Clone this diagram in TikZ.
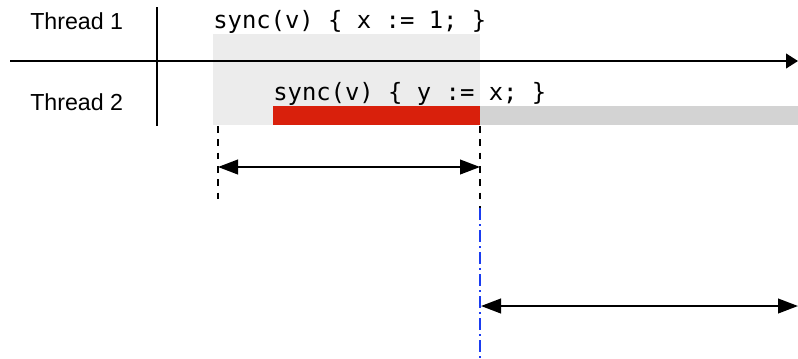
\documentclass[tikz,border=0pt]{standalone}
\usepackage{fontspec}
\newfontfamily\labelfont{Liberation Sans}
\newfontfamily\codefont{DejaVu Sans Mono}
\usetikzlibrary{arrows.meta}
\definecolor{lockgray}{HTML}{ECECEC}
\definecolor{waitred}{HTML}{D9200C}
\definecolor{restgray}{HTML}{D3D3D3}
\definecolor{cutblue}{HTML}{1A3CF0}
\tikzset{
    lane/.style={anchor=base west, inner sep=0, font=\labelfont\fontsize{17.4}{20}\selectfont},
    code/.style={anchor=base west, inner sep=0, font=\codefont\fontsize{17.9}{21}\selectfont},
    axis/.style={line width=1.6pt, -{Triangle[length=9pt, width=11pt]}},
    span/.style={line width=1.5pt, {Triangle[length=15pt, width=11pt]}-{Triangle[length=15pt, width=11pt]}},
    guide/.style={line width=1.2pt, dash pattern=on 5pt off 5pt},
    cutline/.style={cutblue, line width=1.1pt, dash pattern=on 9pt off 3pt on 1.5pt off 3pt}
}

\begin{document}
\begin{tikzpicture}[x=0.75pt, y=-0.75pt]
\useasboundingbox (0,0) rectangle (798,358);
% blocks
\fill[lockgray] (213,34) rectangle (480,125);
\fill[waitred] (273,106) rectangle (480,125);
\fill[restgray] (480,106) rectangle (798,125);
% threads
\node[lane] (t1) at (30,29) {Thread 1};
\node[lane] (t2) at (30,110) {Thread 2};
\node[code] (c1) at (213,28.5) {sync(v) \{ x := 1; \}};
\node[code] (c2) at (273,100) {sync(v) \{ y := x; \}};
\coordinate (sepTop) at (157,7);
\coordinate (sepBot) at (157,126);
\coordinate (timeL) at (10,61);
\coordinate (timeR) at (798,61);
\draw[line width=1.6pt] (sepTop) -- (sepBot);
\draw[axis] (timeL) -- (timeR);
% guides
\coordinate (lockA) at (218,126);
\coordinate (lockAe) at (218,201);
\coordinate (lockB) at (480,126);
\coordinate (lockBe) at (480,208);
\coordinate (cutEnd) at (480,358);
\draw[guide] (lockA) -- (lockAe);
\draw[guide] (lockB) -- (lockBe);
\draw[cutline] (lockBe) -- (cutEnd);
% spans
\coordinate (waitL) at (218,167);
\coordinate (waitR) at (480,167);
\coordinate (afterL) at (481,306);
\coordinate (afterR) at (798,306);
\draw[span] (waitL) -- (waitR);
\draw[span] (afterL) -- (afterR);
\end{tikzpicture}
\end{document}
